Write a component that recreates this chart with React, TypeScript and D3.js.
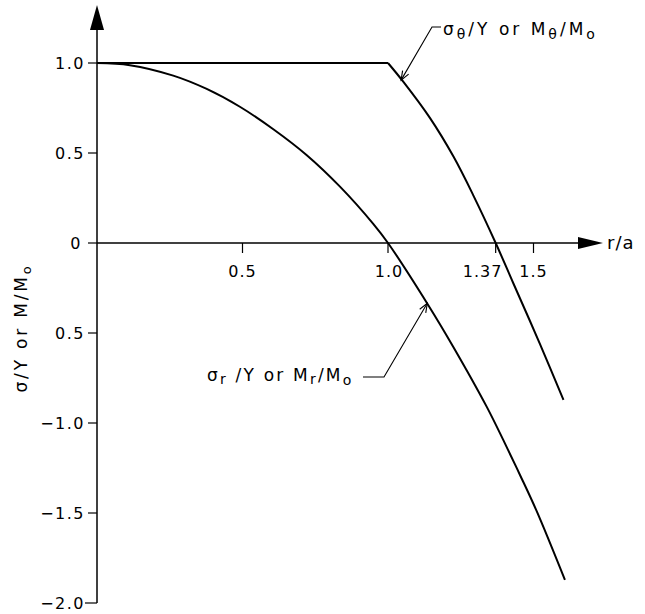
import React from "react";
import * as d3 from "d3";

const W = 645;
const H = 614;

const yTicks = [1.0, 0.5, 0, -0.5, -1.0, -1.5, -2.0];
const yTickLabels = ["1.0", "0.5", "0", "0.5", "\u22121.0", "\u22121.5", "\u22122.0"];
const xTicks = [0.5, 1.0, 1.37, 1.5];
const xTickLabels = ["0.5", "1.0", "1.37", "1.5"];

// sigma_r / Y  (or M_r / M_o)
const radialR = [0, 0.113, 0.262, 0.377, 0.491, 0.606, 0.72, 0.835, 0.95, 1.0, 1.138, 1.224, 1.339, 1.396, 1.454, 1.511, 1.608];
const radialV = [1.0, 0.988, 0.93, 0.856, 0.757, 0.632, 0.489, 0.313, 0.105, 0, -0.344, -0.576, -0.909, -1.094, -1.29, -1.49, -1.872];

// sigma_theta / Y  (or M_theta / M_o): flat plateau, then falling branch
const thetaFlatR = [0, 1.0];
const thetaFlatV = [1.0, 1.0];
const thetaR = [1.0, 1.053, 1.144, 1.225, 1.294, 1.37, 1.431, 1.522, 1.603];
const thetaV = [1.0, 0.895, 0.695, 0.48, 0.262, 0, -0.225, -0.56, -0.872];

const FONT = "'DejaVu Sans', 'Liberation Sans', sans-serif";

function zip(a: number[], b: number[]): [number, number][] {
  return a.map((v, i) => [v, b[i]]);
}

function OpenArrow({ from, to }: { from: [number, number]; to: [number, number] }) {
  const dx = to[0] - from[0];
  const dy = to[1] - from[1];
  const len = Math.hypot(dx, dy);
  const ux = dx / len, uy = dy / len;
  const L = 9, wdt = 3.5;
  const bx = to[0] - ux * L, by = to[1] - uy * L;
  const px = -uy, py = ux;
  return (
    <path
      d={`M${bx + px * wdt},${by + py * wdt} L${to[0]},${to[1]} L${bx - px * wdt},${by - py * wdt}`}
      fill="none"
      stroke="#000"
      strokeWidth={1.1}
    />
  );
}

export default function App() {
  const x = d3.scaleLinear().domain([0, 1]).range([97, 388]);
  const y = d3.scaleLinear().domain([-2, 1]).range([603, 63]);

  const line = d3
    .line<[number, number]>()
    .x((d) => x(d[0]))
    .y((d) => y(d[1]));
  const smooth = d3
    .line<[number, number]>()
    .x((d) => x(d[0]))
    .y((d) => y(d[1]))
    .curve(d3.curveCatmullRom.alpha(0.5));

  const x0 = x(0);
  const y0 = y(0);
  const xArrowTip = 603;
  const yArrowTip = 5;

  const xLabelShift: Record<string, number> = { "0.5": 0, "1.0": 1, "1.37": -13, "1.5": 0 };

  // leader geometry
  const thetaTip: [number, number] = [x(1.045), y(0.905)];
  const thetaElbow: [number, number] = [432, 27];
  const rTip: [number, number] = [x(1.135), y(-0.335)];
  const rElbow: [number, number] = [384, 377];

  return (
    <svg
      width={W}
      height={H}
      style={{ position: "absolute", left: 0, top: 0, background: "#fff" }}
      fontFamily={FONT}
    >
      <rect x={0} y={0} width={W} height={H} fill="#fff" />

      {/* y axis */}
      <line x1={x0} y1={y(-2)} x2={x0} y2={28} stroke="#000" strokeWidth={1.5} />
      <polygon points={`${x0},${yArrowTip} ${x0 - 7},${30} ${x0 + 7},${30}`} fill="#000" />
      {yTicks.map((t, i) => (
        <g key={"yt" + i}>
          <line x1={x0 - (t === -2 ? 12 : 9)} x2={x0} y1={y(t)} y2={y(t)} stroke="#000" strokeWidth={1.2} />
          <text
            x={t === 0 ? 82 : 85}
            y={y(t) + 6}
            textAnchor="end"
            fontSize={16}
            letterSpacing={1.5}
            fill="#000"
          >
            {yTickLabels[i]}
          </text>
        </g>
      ))}

      {/* x axis */}
      <line x1={x0} y1={y0} x2={580} y2={y0} stroke="#000" strokeWidth={1.5} />
      <polygon points={`${xArrowTip},${y0} ${578},${y0 - 6} ${578},${y0 + 6}`} fill="#000" />
      {xTicks.map((t, i) => (
        <g key={"xt" + i}>
          <line x1={x(t)} x2={x(t)} y1={y0} y2={y0 + 10} stroke="#000" strokeWidth={1.2} />
          <text
            x={x(t) + xLabelShift[xTickLabels[i]]}
            y={277}
            textAnchor="middle"
            fontSize={16}
            letterSpacing={1}
            fill="#000"
          >
            {xTickLabels[i]}
          </text>
        </g>
      ))}
      <text x={607} y={249} fontSize={18} letterSpacing={1} fill="#000">
        r/a
      </text>

      {/* y axis title */}
      <text
        transform={`translate(27,328) rotate(-90)`}
        textAnchor="middle"
        fontSize={17}
        letterSpacing={2.8}
        fill="#000"
      >
        σ/Y or M/M
        <tspan dy={4} fontSize={13}>o</tspan>
      </text>

      {/* curves */}
      <path d={line(zip(thetaFlatR, thetaFlatV)) || ""} fill="none" stroke="#000" strokeWidth={2} />
      <path d={smooth(zip(thetaR, thetaV)) || ""} fill="none" stroke="#000" strokeWidth={2} />
      <path d={smooth(zip(radialR, radialV)) || ""} fill="none" stroke="#000" strokeWidth={2} />

      {/* theta annotation */}
      <path
        d={`M441,${thetaElbow[1]} L${thetaElbow[0]},${thetaElbow[1]} L${thetaTip[0]},${thetaTip[1]}`}
        fill="none"
        stroke="#000"
        strokeWidth={1.1}
      />
      <OpenArrow from={thetaElbow} to={thetaTip} />
      <text x={443} y={35} fontSize={17} letterSpacing={3} fill="#000">
        σ<tspan dy={4} fontSize={14}>θ</tspan>
        <tspan dy={-4}>/Y or M</tspan>
        <tspan dy={4} fontSize={14}>θ</tspan>
        <tspan dy={-4}>/M</tspan>
        <tspan dy={4} fontSize={14}>o</tspan>
      </text>

      {/* radial annotation */}
      <path
        d={`M363,${rElbow[1]} L${rElbow[0]},${rElbow[1]} L${rTip[0]},${rTip[1]}`}
        fill="none"
        stroke="#000"
        strokeWidth={1.1}
      />
      <OpenArrow from={rElbow} to={rTip} />
      <text x={207} y={381} fontSize={17} letterSpacing={2.2} fill="#000">
        σ<tspan dy={3} fontSize={14}>r</tspan>
        <tspan dy={-3}> /Y or M</tspan>
        <tspan dy={3} fontSize={14}>r</tspan>
        <tspan dy={-3}>/M</tspan>
        <tspan dy={4} fontSize={14}>o</tspan>
      </text>
    </svg>
  );
}
